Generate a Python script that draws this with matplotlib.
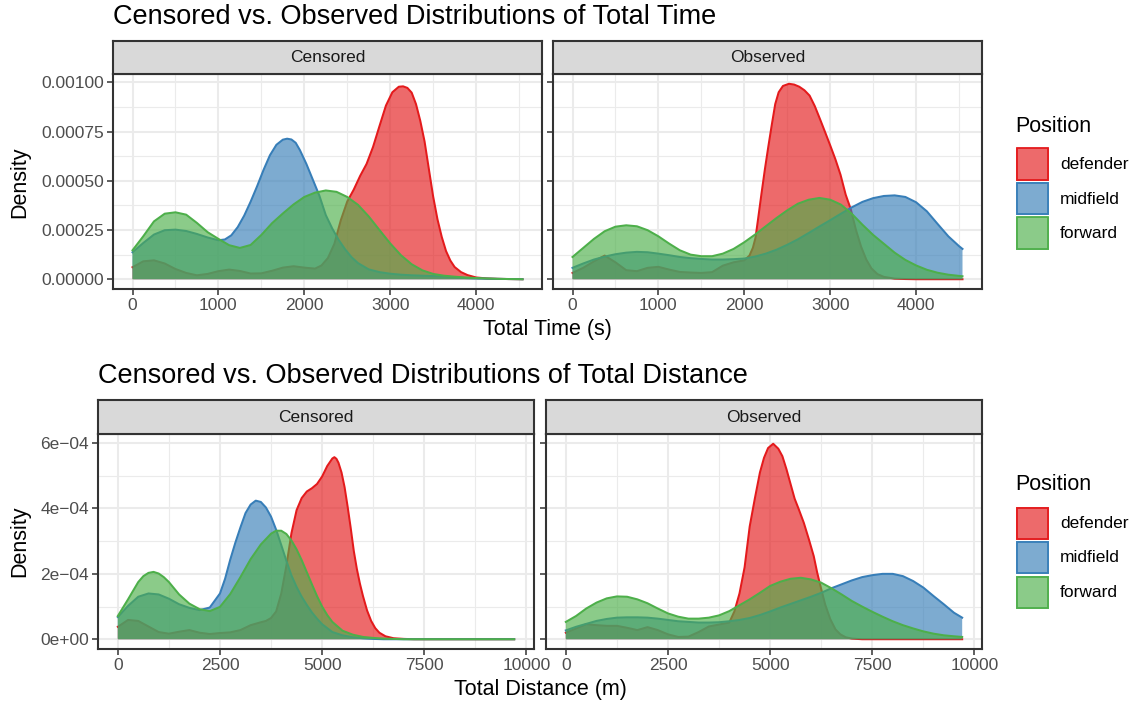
import matplotlib
matplotlib.use("Agg")
import matplotlib.pyplot as plt
from matplotlib.patches import Rectangle
import numpy as np

plt.rcParams['font.family'] = ['Liberation Sans', 'DejaVu Sans']

# positions and their colours (RColorBrewer Set1)
positions = ["defender", "midfield", "forward"]
pos_colors = ["#E41A1C", "#377EB8", "#4DAF4A"]
facets = ["Censored", "Observed"]

# ---- total time densities (x in seconds, density in units of 1e-5) ----
t_grid = list(range(0, 4501, 125)) + [4540]

tc_def_x = [0, 125, 250, 375, 500, 625, 750, 875, 1000, 1125, 1250, 1375, 1500, 1625, 1750,
            1875, 2000, 2125, 2200, 2275, 2350, 2425, 2500, 2575, 2650, 2725, 2800, 2875,
            2950, 3025, 3100, 3150, 3200, 3250, 3300, 3350, 3400, 3450, 3500, 3550, 3600,
            3650, 3700, 3750, 3825, 3900, 4000, 4125, 4250, 4375, 4540]
tc_def_y = [6.1, 9.1, 9.6, 8.0, 5.2, 3.2, 2.0, 2.7, 4.1, 4.9, 4.2, 2.9, 3.0, 4.3, 5.9,
            6.6, 5.9, 5.4, 7.0, 10.8, 18.0, 30.0, 39.5, 45.5, 52.5, 58.6, 67.2, 77.8,
            88.2, 95.0, 97.8, 98.0, 97.2, 94.8, 89.0, 80.5, 70.0, 56.0, 42.0, 30.5, 21.5,
            14.3, 9.5, 6.2, 3.6, 2.1, 0.9, 0.4, 0.2, 0.1, 0.0]
tc_mid_x = [0, 125, 250, 375, 500, 625, 750, 875, 1000, 1075, 1150, 1225, 1300, 1375, 1450,
            1525, 1600, 1675, 1750, 1800, 1850, 1900, 1950, 2025, 2100, 2175, 2250, 2325,
            2400, 2475, 2550, 2625, 2750, 2875, 3000, 3125, 3250, 3375, 3500, 3625, 3750,
            3875, 4000, 4125, 4250, 4375, 4540]
tc_mid_y = [13.7, 18.4, 22.7, 24.9, 25.2, 24.5, 23.0, 21.2, 19.8, 20.2, 22.3, 26.5, 32.3,
            39.4, 47.2, 55.5, 63.0, 68.3, 70.9, 71.4, 71.0, 69.3, 65.5, 58.5, 50.5, 42.5,
            32.6, 25.8, 20.0, 15.2, 11.2, 8.2, 5.0, 3.6, 2.8, 2.3, 2.0, 1.8, 1.6, 1.4, 1.0,
            0.6, 0.4, 0.3, 0.2, 0.1, 0.0]
tc_fwd_x = t_grid
tc_fwd_y = [14.7, 21.8, 29.4, 33.3, 34.0, 32.8, 28.6, 23.9, 20.5, 17.3, 15.9, 17.4, 22.5,
            28.5, 33.4, 38.0, 41.8, 44.0, 45.1, 44.4, 41.8, 37.8, 31.9, 25.0, 18.2, 12.2,
            7.6, 4.5, 2.7, 1.8, 1.3, 0.9, 0.6, 0.4, 0.2, 0.1, 0.05, 0.0]

to_def_x = [0, 125, 250, 375, 500, 625, 750, 875, 1000, 1125, 1250, 1375, 1500, 1625, 1750,
            1875, 2000, 2060, 2100, 2130, 2160, 2200, 2240, 2280, 2320, 2360, 2400, 2450,
            2520, 2580, 2640, 2700, 2760, 2820, 2880, 2940, 3000, 3060, 3120, 3180, 3240,
            3300, 3360, 3420, 3480, 3550, 3625, 3750, 3875, 4000, 4540]
to_def_y = [3.2, 5.8, 9.1, 12.0, 8.6, 4.6, 4.1, 5.8, 6.3, 4.9, 3.7, 3.4, 3.2, 3.6, 6.9,
            8.6, 9.6, 12.0, 16.0, 21.0, 30.5, 43.5, 56.0, 67.5, 78.5, 89.0, 95.0, 98.2,
            99.3, 98.9, 97.8, 96.0, 93.3, 88.0, 81.5, 74.8, 68.0, 61.0, 53.1, 43.0, 35.5,
            25.0, 16.5, 10.0, 5.5, 2.6, 1.2, 0.3, 0.1, 0.0, 0.0]
to_mid_x = t_grid
to_mid_y = [5.8, 8.0, 10.0, 11.5, 12.7, 13.5, 13.9, 13.7, 13.0, 12.2, 11.3, 10.7, 10.3,
            10.0, 10.0, 10.2, 10.5, 11.5, 13.0, 15.0, 17.5, 20.3, 23.5, 26.8, 30.0, 33.3,
            36.5, 39.3, 41.2, 42.3, 42.6, 41.8, 39.1, 34.5, 28.1, 21.8, 16.8, 15.4]
to_fwd_x = t_grid
to_fwd_y = [11.3, 15.9, 20.5, 24.4, 26.7, 27.4, 26.9, 24.9, 21.8, 18.1, 14.7, 12.5, 11.7,
            11.7, 13.0, 15.4, 18.8, 22.7, 26.9, 31.1, 35.0, 38.4, 40.4, 41.3, 40.4, 37.9,
            33.3, 27.7, 22.5, 18.0, 13.5, 9.8, 7.0, 4.8, 3.3, 2.3, 1.7, 1.5]

# ---- total distance densities (x in metres, density in units of 1e-5) ----
d_grid = list(range(0, 9501, 250)) + [9700]

dc_def_x = [0, 250, 500, 750, 1000, 1250, 1500, 1750, 2000, 2250, 2500, 2750, 3000, 3250,
            3500, 3625, 3750, 3875, 4000, 4125, 4250, 4375, 4500, 4625, 4750, 4875, 5000,
            5125, 5250, 5300, 5350, 5400, 5475, 5550, 5625, 5700, 5775, 5850, 5925, 6000,
            6100, 6200, 6300, 6400, 6550, 6750, 7000, 7250, 9700]
dc_def_y = [3.8, 5.9, 5.6, 3.9, 2.2, 1.7, 2.3, 2.8, 2.0, 1.6, 1.9, 2.1, 2.8, 4.3,
            5.2, 5.6, 6.5, 8.5, 14.0, 22.5, 32.5, 39.5, 43.2, 45.2, 46.2, 47.5, 49.8,
            53.0, 55.3, 55.7, 55.2, 54.0, 51.0, 46.5, 40.5, 34.0, 27.0, 21.5, 17.0, 13.2,
            8.8, 5.6, 3.4, 2.0, 0.9, 0.3, 0.1, 0.0, 0.0]
dc_mid_x = [0, 250, 500, 750, 1000, 1250, 1500, 1750, 2000, 2250, 2500, 2625, 2750, 2875,
            3000, 3125, 3250, 3375, 3500, 3625, 3750, 3875, 4000, 4125, 4250, 4375, 4500,
            4625, 4750, 4875, 5000, 5250, 5500, 5750, 6000, 6250, 6500, 9700]
dc_mid_y = [6.8, 10.2, 13.0, 14.0, 13.7, 12.4, 10.7, 9.6, 8.9, 9.7, 14.0, 18.5, 24.3, 29.5,
            34.2, 38.6, 41.2, 42.4, 42.0, 40.3, 37.5, 33.5, 28.8, 24.0, 19.5, 16.0, 13.0,
            10.5, 8.2, 6.3, 4.6, 2.2, 1.2, 0.6, 0.3, 0.1, 0.0, 0.0]
dc_fwd_x = [0, 250, 500, 625, 750, 875, 1000, 1125, 1250, 1500, 1750, 2000, 2250, 2500,
            2750, 3000, 3250, 3500, 3750, 3875, 4000, 4125, 4250, 4375, 4500, 4625, 4750,
            4875, 5000, 5125, 5250, 5500, 5750, 6000, 6250, 6500, 6750, 7000, 9700]
dc_fwd_y = [7.1, 12.2, 17.5, 19.3, 20.3, 20.6, 20.1, 19.0, 17.5, 13.7, 10.9, 9.2, 8.6, 9.9,
            13.8, 19.0, 24.5, 29.0, 32.3, 33.2, 33.2, 32.2, 30.2, 27.5, 24.2, 20.5, 16.8,
            13.2, 10.0, 7.4, 5.3, 2.6, 1.4, 0.7, 0.4, 0.2, 0.1, 0.0, 0.0]

do_def_x = [0, 250, 500, 750, 1000, 1250, 1500, 1750, 2000, 2250, 2500, 2750, 3000, 3250,
            3500, 3750, 4000, 4125, 4250, 4375, 4500, 4625, 4750, 4850, 4950, 5075, 5200,
            5300, 5400, 5500, 5600, 5700, 5825, 5950, 6068, 6150, 6231, 6350, 6474, 6600,
            6718, 6850, 7000, 7250, 9700]
do_def_y = [2.0, 3.3, 4.6, 4.3, 4.1, 4.1, 3.5, 2.8, 3.7, 2.8, 1.5, 0.7, 0.8, 2.2,
            3.9, 4.5, 5.1, 8.5, 14.0, 22.0, 34.5, 43.0, 51.0, 55.5, 58.5, 59.8, 58.3,
            56.0, 52.0, 47.5, 43.0, 39.8, 35.6, 30.5, 25.4, 20.5, 16.3, 10.5, 6.1, 3.0,
            1.5, 0.6, 0.2, 0.0, 0.0]
do_mid_x = d_grid
do_mid_y = [2.7, 3.8, 4.7, 5.6, 6.2, 6.6, 6.7, 6.7, 6.6, 6.3, 5.9, 5.5, 5.3, 5.1, 5.1, 5.2,
            5.5, 5.9, 6.5, 7.4, 8.5, 9.7, 10.8, 11.9, 13.0, 14.2, 15.6, 16.8, 18.0, 19.0,
            19.6, 20.0, 20.0, 19.3, 17.8, 15.8, 13.2, 10.7, 8.1, 6.6]
do_fwd_x = d_grid
do_fwd_y = [5.3, 7.1, 9.4, 11.2, 12.5, 13.1, 13.0, 12.2, 11.0, 9.4, 7.9, 6.9, 6.3, 6.3, 6.6,
            7.3, 8.6, 10.4, 12.2, 14.2, 16.3, 17.6, 18.5, 18.8, 18.3, 17.3, 15.6, 13.7, 11.7,
            10.0, 8.4, 6.9, 5.5, 4.3, 3.3, 2.4, 1.7, 1.2, 0.9, 0.7]

time_ticks = [0, 1000, 2000, 3000, 4000]
time_minor = [500, 1500, 2500, 3500, 4500]
time_yticks = [0, 0.00025, 0.0005, 0.00075, 0.001]
time_ylabels = ["0.00000", "0.00025", "0.00050", "0.00075", "0.00100"]
time_yminor = [0.000125, 0.000375, 0.000625, 0.000875]

dist_ticks = [0, 2500, 5000, 7500, 10000]
dist_minor = [1250, 3750, 6250, 8750]
dist_yticks = [0, 0.0002, 0.0004, 0.0006]
dist_ylabels = ["0e+00", "2e\u221204", "4e\u221204", "6e\u221204"]
dist_yminor = [0.0001, 0.0003, 0.0005]

W, H = 1135, 704
fig = plt.figure(figsize=(W / 100, H / 100), dpi=100)


def box(x0, y0, x1, y1):
    # pixel box (top-left origin) -> figure fraction rect
    return [x0 / W, 1 - y1 / H, (x1 - x0) / W, (y1 - y0) / H]


def fpos(x, y):
    return x / W, 1 - y / H


GREY20 = "#333333"


def draw_panel(rect, strip_rect, label, series, xlim, ylim, xticks, xminor,
               yticks, yminor, ylabels):
    ax = fig.add_axes(rect)
    ax.set_xlim(xlim)
    ax.set_ylim(ylim)
    for v in xminor:
        ax.axvline(v, color="#EBEBEB", lw=0.8, zorder=0)
    for v in yminor:
        ax.axhline(v, color="#EBEBEB", lw=0.8, zorder=0)
    for v in xticks:
        ax.axvline(v, color="#EBEBEB", lw=1.5, zorder=0)
    for v in yticks:
        ax.axhline(v, color="#EBEBEB", lw=1.5, zorder=0)
    for (xs, vals), col in zip(series, pos_colors):
        y = np.array(vals) * 1e-5
        ax.fill_between(xs, y, 0, facecolor=col, alpha=0.65, linewidth=0, zorder=2)
        ax.plot(xs, y, color=col, lw=1.45, zorder=2, solid_joinstyle="round")
    ax.set_xticks(xticks)
    ax.set_xticklabels([str(t) for t in xticks])
    ax.set_yticks(yticks)
    if ylabels is None:
        ax.set_yticklabels([])
        ax.tick_params(axis="y", length=0)
    else:
        ax.set_yticklabels(ylabels)
    ax.tick_params(labelsize=12.5, labelcolor="#4D4D4D", color=GREY20, width=1.1,
                   length=4, pad=2.5)
    for s in ax.spines.values():
        s.set_color(GREY20)
        s.set_linewidth(1.5)

    sax = fig.add_axes(strip_rect)
    sax.set_facecolor("#D9D9D9")
    sax.set_xticks([])
    sax.set_yticks([])
    for s in sax.spines.values():
        s.set_color(GREY20)
        s.set_linewidth(1.5)
    sax.text(0.5, 0.5, label, ha="center", va="center", fontsize=12.5, color="#1A1A1A",
             transform=sax.transAxes)
    return ax


def draw_legend(top):
    fig.text(*fpos(1015, top + 14), "Position", fontsize=15.5, ha="left", va="center")
    for i, (name, col) in enumerate(zip(positions, pos_colors)):
        y0 = top + 35.5 + i * 34.5
        x0, y1 = 1016, y0 + 33
        fig.add_artist(Rectangle(fpos(x0, y1), 33 / W, 33 / H, transform=fig.transFigure,
                                 facecolor=col, alpha=0.65, linewidth=0))
        fig.add_artist(Rectangle(fpos(x0 + 1, y1 - 1), 31 / W, 31 / H,
                                 transform=fig.transFigure, facecolor="none",
                                 edgecolor=col, linewidth=1.3))
        fig.text(*fpos(1060, y0 + 17), name, fontsize=12.5, ha="left", va="center")


# ---- top: total time ----
time_series = [[(tc_def_x, tc_def_y), (tc_mid_x, tc_mid_y), (tc_fwd_x, tc_fwd_y)],
               [(to_def_x, to_def_y), (to_mid_x, to_mid_y), (to_fwd_x, to_fwd_y)]]
tmax = max(max(v) for row in time_series for _, v in row) * 1e-5
t_xlim = (-0.05 * 4540, 1.05 * 4540)
t_ylim = (-0.05 * tmax, 1.05 * tmax)

draw_panel(box(113, 74, 542, 289), box(113, 41, 542, 74), facets[0], time_series[0],
           t_xlim, t_ylim, time_ticks, time_minor, time_yticks, time_yminor, time_ylabels)
draw_panel(box(553, 74, 982, 289), box(553, 41, 982, 74), facets[1], time_series[1],
           t_xlim, t_ylim, time_ticks, time_minor, time_yticks, time_yminor, None)

fig.text(*fpos(113, 17), "Censored vs. Observed Distributions of Total Time",
         fontsize=19.5, ha="left", va="center")
fig.text(*fpos(547, 329), "Total Time (s)", fontsize=15.5, ha="center", va="center")
fig.text(*fpos(20, 182), "Density", fontsize=15.5, ha="center", va="center", rotation=90)
draw_legend(112)

# ---- bottom: total distance ----
dist_series = [[(dc_def_x, dc_def_y), (dc_mid_x, dc_mid_y), (dc_fwd_x, dc_fwd_y)],
               [(do_def_x, do_def_y), (do_mid_x, do_mid_y), (do_fwd_x, do_fwd_y)]]
dmax = max(max(v) for row in dist_series for _, v in row) * 1e-5
d_xlim = (-0.05 * 9700, 1.05 * 9700)
d_ylim = (-0.05 * dmax, 1.05 * dmax)

draw_panel(box(98, 434, 534, 649), box(98, 400, 534, 434), facets[0], dist_series[0],
           d_xlim, d_ylim, dist_ticks, dist_minor, dist_yticks, dist_yminor, dist_ylabels)
draw_panel(box(546, 434, 982, 649), box(546, 400, 982, 434), facets[1], dist_series[1],
           d_xlim, d_ylim, dist_ticks, dist_minor, dist_yticks, dist_yminor, None)

fig.text(*fpos(98, 376), "Censored vs. Observed Distributions of Total Distance",
         fontsize=19.5, ha="left", va="center")
fig.text(*fpos(540, 690), "Total Distance (m)", fontsize=15.5, ha="center", va="center")
fig.text(*fpos(20, 541), "Density", fontsize=15.5, ha="center", va="center", rotation=90)
draw_legend(471)

fig.savefig("out.png", dpi=100)
